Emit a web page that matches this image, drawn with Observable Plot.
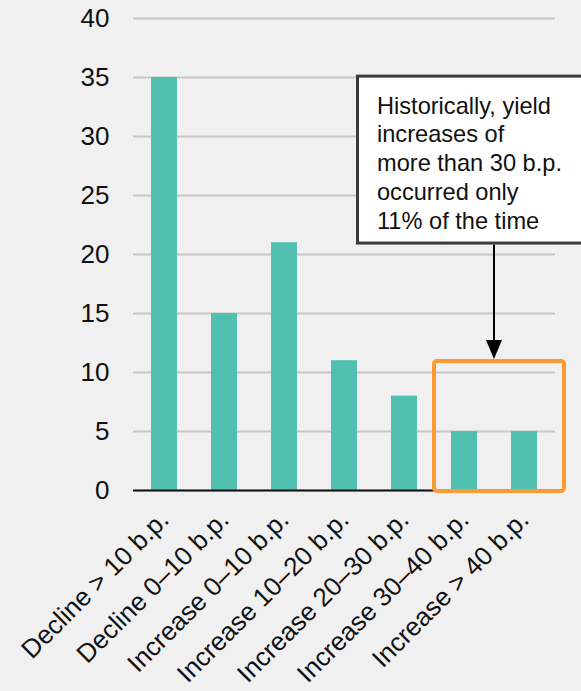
<!DOCTYPE html>
<html>
<head>
<meta charset="utf-8">
<script src="https://cdn.jsdelivr.net/npm/d3@7"></script>
<script src="https://cdn.jsdelivr.net/npm/@observablehq/plot@0.6"></script>
<style>
  html, body { margin: 0; padding: 0; background: #f0f0f0; }
  #chart svg { display: block; }
</style>
</head>
<body>
<div id="chart"></div>
<script>
const categories = [
  "Decline > 10 b.p.",
  "Decline 0–10 b.p.",
  "Increase 0–10 b.p.",
  "Increase 10–20 b.p.",
  "Increase 20–30 b.p.",
  "Increase 30–40 b.p.",
  "Increase > 40 b.p."
];
const values = [35, 15, 21, 11, 8, 5, 5];
const yTicks = [0, 5, 10, 15, 20, 25, 30, 35, 40];
const highlighted = ["Increase 30–40 b.p.", "Increase > 40 b.p."];
const highlightTop = 11.1;
const noteLines = [
  "Historically, yield",
  "increases of",
  "more than 30 b.p.",
  "occurred only",
  "11% of the time"
];
const noteTop = 35.2;
const noteBottom = 20.8;

const data = categories.map((c, i) => ({category: c, value: values[i]}));

const font = "'Liberation Sans', Arial, sans-serif";

const chart = Plot.plot({
  width: 581,
  height: 691,
  marginLeft: 133,
  marginRight: 26,
  marginTop: 18,
  marginBottom: 201,
  style: {background: "#f0f0f0", fontFamily: font, fontSize: "26px", color: "#111"},
  x: {domain: categories, paddingInner: 0.57, paddingOuter: 0.285, label: null},
  y: {domain: [0, 40], ticks: yTicks, label: null},
  marks: [
    Plot.gridY(yTicks, {stroke: "#c6c6c6", strokeOpacity: 1, strokeWidth: 2}),
    Plot.barY(data, {x: "category", y: "value", fill: "#52c0b0"}),
    Plot.ruleY([0], {stroke: "#111", strokeWidth: 2}),
    Plot.axisY(yTicks, {tickSize: 0, tickPadding: 24, fontSize: 26, label: null}),
    Plot.axisX({tickSize: 0, tickRotate: -45, tickPadding: 25, fontSize: 26, label: null})
  ]
});

document.getElementById("chart").appendChild(chart);

// Annotations placed through the chart's own scales
const xs = chart.scale("x");
const ys = chart.scale("y");
const svg = d3.select(chart);
const bw = xs.bandwidth;
const x6 = xs.apply(highlighted[0]);
const x7 = xs.apply(highlighted[1]);
const arrowX = (x6 + x7 + bw) / 2;
const yTopHL = ys.apply(highlightTop);
const y0 = ys.apply(0);

const boxTopPx = ys.apply(noteTop);
const boxBottomPx = ys.apply(noteBottom);

// Arrow from note box to highlight box
svg.append("line")
  .attr("x1", arrowX).attr("x2", arrowX)
  .attr("y1", boxBottomPx).attr("y2", yTopHL - 16)
  .attr("stroke", "#000").attr("stroke-width", 2);
svg.append("path")
  .attr("d", `M${arrowX - 8},${yTopHL - 19} L${arrowX + 8},${yTopHL - 19} L${arrowX},${yTopHL} Z`)
  .attr("fill", "#000");

// Orange highlight rectangle
const hlLeft = x6 - 17;
const hlRight = x7 + bw + 27;
svg.append("rect")
  .attr("x", hlLeft)
  .attr("y", yTopHL + 2)
  .attr("width", hlRight - hlLeft)
  .attr("height", (y0 + 1) - (yTopHL + 2))
  .attr("rx", 3)
  .attr("fill", "none")
  .attr("stroke", "#fa9a32")
  .attr("stroke-width", 4);

// Note box
const boxLeft = arrowX - 138;
svg.append("rect")
  .attr("x", boxLeft + 1.5)
  .attr("y", boxTopPx + 1.5)
  .attr("width", 300)
  .attr("height", boxBottomPx - boxTopPx - 3)
  .attr("fill", "#ffffff")
  .attr("stroke", "#3a3a3a")
  .attr("stroke-width", 3);
const txt = svg.append("text")
  .attr("text-anchor", "start")
  .style("font-family", font)
  .style("font-size", "23.6px")
  .attr("fill", "#111");
noteLines.forEach((line, i) => {
  txt.append("tspan")
    .attr("x", boxLeft + 21)
    .attr("y", boxTopPx + 39 + i * 28.75)
    .text(line);
});
</script>
</body>
</html>
